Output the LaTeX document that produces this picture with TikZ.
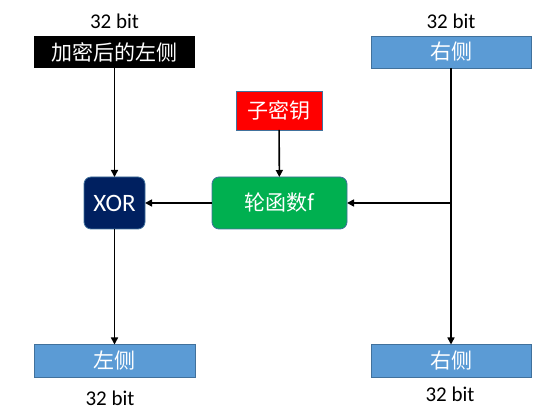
\documentclass[tikz,border=0pt]{standalone}
\usepackage{fontspec}
\setmainfont{Carlito}
\newfontfamily\cjk{Noto Sans CJK SC}
\usetikzlibrary{arrows.meta}
\definecolor{boxblue}{HTML}{5B9BD5}
\definecolor{edgeblue}{HTML}{41719C}
\definecolor{fgreen}{HTML}{00B050}
\definecolor{navy}{HTML}{002060}
\begin{document}
\begin{tikzpicture}[x=1pt,y=-1pt,
  every node/.style={inner sep=0pt,outer sep=0pt},
  box/.style={draw=edgeblue,line width=0.8pt,text=white,font=\cjk\fontsize{21}{25}\selectfont},
  lbl/.style={font=\fontsize{21}{25}\selectfont},
  conn/.style={line width=1.6pt,-{Triangle[length=7pt,width=7pt]}}]
\useasboundingbox (0,0) rectangle (550,419);
\node[box,draw=none,fill=black,minimum width=161,minimum height=32] (tl) at (114.5,52) {加密后的左侧};
\node[box,fill=boxblue,minimum width=160,minimum height=32] (tr) at (451,52) {右侧};
\node[box,fill=red,minimum width=86,minimum height=39] (key) at (279,110.5) {子密钥};
\node[box,fill=navy,rounded corners=7pt,minimum width=61,minimum height=52,font=\fontsize{25}{29}\selectfont] (xor) at (114.5,203) {XOR};
\node[box,fill=fgreen,rounded corners=7pt,minimum width=135,minimum height=52] (f) at (279.5,203) {轮函数f};
\node[box,fill=boxblue,minimum width=161,minimum height=33] (bl) at (114.5,361) {左侧};
\node[box,fill=boxblue,minimum width=160,minimum height=33] (br) at (451,361) {右侧};
\node[lbl] (l1) at (114.5,21) {32 bit};
\node[lbl] (l2) at (451,21) {32 bit};
\node[lbl] (l3) at (110,398) {32 bit};
\node[lbl] (l4) at (450,394) {32 bit};
\coordinate (br0) at (451,203);
\draw[conn] (tl) -- (xor);
\draw[conn] (key) -- (f);
\draw[conn] (f) -- (xor);
\draw[conn] (xor) -- (bl);
\draw[conn] (tr) -- (br);
\draw[conn] (br0) -- (f);
\end{tikzpicture}
\end{document}
